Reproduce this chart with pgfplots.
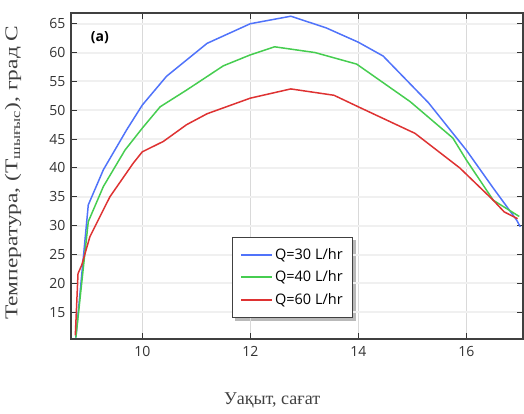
\documentclass[border=0pt]{standalone}
\usepackage{fontspec}
\setmainfont{Liberation Serif}
\setsansfont{Open Sans}
\usepackage{graphicx}
\usepackage{pgfplots}
\pgfplotsset{compat=1.18}
\usetikzlibrary{backgrounds}

\definecolor{cblue}{RGB}{80,115,250}
\definecolor{cgreen}{RGB}{70,205,80}
\definecolor{cred}{RGB}{222,50,50}

\begin{document}
\begin{tikzpicture}
\useasboundingbox (-71pt,-75pt) rectangle (453pt,339pt);
\begin{axis}[
  at={(0,0)},anchor=south west,
  scale only axis,width=452pt,height=326pt,
  xmin=8.68,xmax=17.05,ymin=10.36,ymax=66.86,
  xtick={10,12,14,16},ytick={15,20,...,65},
  tick align=inside,major tick length=6pt,
  tick style={black!80,line width=1pt},
  axis line style={black!75,line width=1.2pt},
  xmajorgrids,ymajorgrids,
  x grid style={gray!30,line width=0.6pt},
  y grid style={gray!12,line width=2pt},
  /pgf/number format/assume math mode=true,
  tick label style={font=\sffamily\fontsize{14}{14}\selectfont,text=black!80},
  xticklabel style={yshift=-4pt},
  yticklabel style={xshift=-2pt},
  xlabel={Уақыт, сағат},
  ylabel={\scalebox{1.3}[1]{Температура, (T\textsubscript{шығыс}), град C}},
  label style={font=\fontsize{18}{18}\selectfont,text=black!75},
  xlabel style={at={(axis description cs:0.445,-0.187)},anchor=center},
  ylabel style={at={(axis description cs:-0.128,0.51)},anchor=center},
  legend style={at={(axis description cs:0.356,0.313)},anchor=north west,name=leg,
    draw=black!75,line width=1pt,fill=white,
    font=\sffamily\fontsize{14.5}{14.5}\selectfont,row sep=6pt,inner xsep=8pt,inner ysep=9pt},
  legend cell align=left,
  legend image code/.code={\draw[#1,line width=1.7pt] (0pt,0pt) -- (31pt,0pt);},
  every axis plot/.append style={line width=1.5pt},
]
\addplot[cblue] coordinates {(8.77,10.6) (9.0,33.6) (9.28,39.7) (9.71,46.6) (10,50.9) (10.45,55.9) (11.2,61.6) (12,65) (12.75,66.3) (13.4,64.3) (14.0,61.8) (14.46,59.4) (15.3,51.3) (16,43.1) (16.5,36.5) (16.93,31) (17.0,29.8)};
\addlegendentry{Q=30 L/hr}
\addplot[cgreen] coordinates {(8.77,10.6) (9.0,30.7) (9.28,36.8) (9.68,43.1) (10,46.9) (10.33,50.6) (10.82,53.5) (11.5,57.7) (12,59.6) (12.45,61) (13.2,60) (13.97,58) (14.96,51.5) (15.75,45.2) (16,41.4) (16.5,34.4) (16.98,31.6)};
\addlegendentry{Q=40 L/hr}
\addplot[cred] coordinates {(8.76,11) (8.81,21.7) (8.88,23.2) (9.03,28.1) (9.4,35) (9.83,40.8) (10,42.8) (10.39,44.6) (10.82,47.5) (11.2,49.4) (12,52.1) (12.75,53.7) (13.55,52.6) (14,50.6) (15.05,46) (15.88,40) (16.5,34.4) (16.7,32.4) (16.95,31.2)};
\addlegendentry{Q=60 L/hr}
\node[font=\sffamily\bfseries\fontsize{14}{14}\selectfont] at (axis description cs:0.064,0.926) {(a)};
\end{axis}
\begin{scope}[on background layer]
\fill[gray!55] ([xshift=3pt,yshift=-3pt]leg.north west) rectangle ([xshift=3pt,yshift=-3pt]leg.south east);
\end{scope}
\end{tikzpicture}
\end{document}
